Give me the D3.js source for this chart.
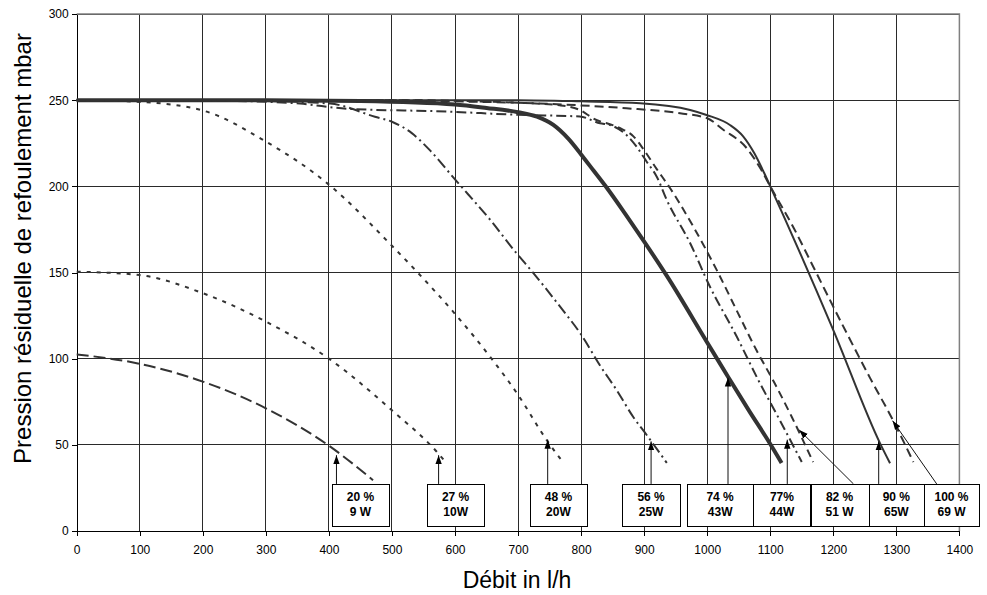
<!DOCTYPE html>
<meta charset="utf-8" />
<style>
  body { margin: 0; background: #fff; }
  svg text { font-family: "Liberation Sans", Arial, sans-serif; fill: #000; }
  .grid line { stroke: #2a2a2a; shape-rendering: crispEdges; }
  .frame { fill: none; stroke: #808080; stroke-width: 1.5; }
  .axis path, .axis line { stroke: #000; shape-rendering: crispEdges; }
  .axis text { font-size: 12px; }
  .curve { fill: none; stroke: #333; }
  .tag rect { fill: #fff; stroke: #000; shape-rendering: crispEdges; }
  .tag text { font-size: 12px; font-weight: bold; text-anchor: middle; }
  .arrow { stroke: #111; stroke-width: 1; }
</style>
<svg width="987" height="595"></svg>
<script src="https://d3js.org/d3.v7.min.js"></script>
<script>
  // ---- data (flow l/h, pressure mbar) ----
  var xTicks = d3.range(0, 1401, 100);
  var yTicks = d3.range(0, 301, 50);

  var c20 = [[0,102.5],[100,97],[200,86.7],[300,71.2],[400,49.5],[470,29.5]];
  var c27 = [[0,150.5],[100,148.5],[200,138],[300,121.5],[400,100],[500,70],[571,46],[584,40.5]];
  var c48 = [[0,250],[100,249],[200,244],[300,226],[400,201],[500,165.5],[542,149.5],[600,126],[658,100],[700,79],[745,53],[769,41]];
  var c56 = [[0,250],[300,249.5],[402,248],[473,240.4],[500,237.5],[531,231],[560,221],[600,204],[656,180.5],[698,161],[719,152],[767,130],[800,114],[830,96],[856,82],[883,66],[904,55.7],[936,39.5]];
  var c74 = [[0,250],[300,250],[450,249.5],[600,247.5],[650,245.5],[700,243],[730,240.4],[756,235.6],[780,227.5],[800,218.5],[820,209],[841,199],[870,184],[899,168.5],[936,148],[999,110],[1033,89.5],[1066,70],[1100,50.5],[1118,39.5]];
  var c77 = [[0,250],[250,249.5],[354,248],[430,245],[587,243.4],[700,241.5],[798,240.5],[830,236.6],[846,235.6],[872,229.8],[888,223],[904,214.3],[920,205.6],[936,192],[973,167],[1004,142],[1047,112.7],[1081,87.6],[1115,64.4],[1150,40]];
  var c82 = [[0,250],[500,250],[700,248.5],[766,247],[798,244.3],[819,239.5],[862,233.7],[883,229],[899,221.5],[920,210],[941,199],[954,191.5],[978,176.6],[1015,151.5],[1049,126.3],[1078,105],[1107,85.7],[1134,66.3],[1168,40]];
  var c90 = [[0,250],[700,250],[800,249.3],[894,248.2],[973,244.3],[999,241.4],[1036,235.6],[1057,229],[1075,219],[1090,208],[1100,200],[1200,116.6],[1274,51],[1290,39.3]];
  var c100 = [[0,250],[500,250],[600,249.3],[700,248.5],[798,247],[872,245.3],[957,242.4],[1000,239.5],[1025,233],[1063,222],[1085,210],[1100,200],[1137,176],[1168,153.5],[1221,115],[1258,89],[1295,64],[1327,40]];

  var tagPct = ["20 %", "27 %", "48 %", "56 %", "74 %", "77%", "82 %", "90 %", "100 %"];
  var tagWatt = ["9 W", "10W", "20W", "25W", "43W", "44W", "51 W", "65W", "69 W"];
  // point on the curve each arrow points to
  var arrowTip = [[412,44],[574,44],[747,53],[911,52],[1033,89],[1127,53],[1146,58.6],[1272,52],[1294,64]];

  // ---- layout ----
  var curves = [c20, c27, c48, c56, c74, c77, c82, c90, c100];
  var dashes = ["12,5", "4,6", "4,6", "11,4,2,4", null, "10,4,2,4", "8,5", null, "9,5"];
  var widths = [2, 2, 2, 2, 4, 2, 2, 2, 2];
  var tagLeft = [405, 556, 719, 865, 968, 1073, 1164, 1256, 1344];
  var tagRight = [495, 646, 809, 957, 1073, 1164, 1256, 1344, 1431];
  var arrowBase = [412, 574, 747, 911, 1033, 1127, 1232, 1272, 1364];
  var tagTop = 27.3, tagBottom = 2.9;

  var svg = d3.select("svg"),
    margin = { top: 14, right: 27.6, bottom: 64, left: 76.7 },
    W = +svg.attr("width"),
    H = +svg.attr("height");

  var x = d3.scaleLinear().domain([0, 1400]).range([margin.left, W - margin.right]);
  var y = d3.scaleLinear().domain([0, 300]).range([H - margin.bottom, margin.top]);

  svg.append("defs").append("marker")
    .attr("id", "head")
    .attr("viewBox", "0 -4 9 8")
    .attr("refX", 9)
    .attr("markerWidth", 9)
    .attr("markerHeight", 8)
    .attr("markerUnits", "userSpaceOnUse")
    .attr("orient", "auto")
    .append("path")
    .attr("d", "M0,-3.2L9,0L0,3.2Z")
    .attr("fill", "#000");

  // grid
  var grid = svg.append("g").attr("class", "grid");
  grid.selectAll(".v").data(xTicks.slice(1))
    .enter().append("line")
    .attr("x1", function(d) { return x(d); })
    .attr("x2", function(d) { return x(d); })
    .attr("y1", y(300))
    .attr("y2", y(0));
  grid.selectAll(".h").data(yTicks.slice(1))
    .enter().append("line")
    .attr("x1", x(0))
    .attr("x2", x(1400))
    .attr("y1", function(d) { return y(d); })
    .attr("y2", function(d) { return y(d); });

  svg.append("path").attr("class", "frame")
    .attr("d", "M" + x(0) + "," + y(300) + "H" + x(1400) + "V" + y(0));

  // axes
  svg.append("g")
    .attr("class", "axis")
    .attr("transform", "translate(0," + y(0) + ")")
    .call(d3.axisBottom(x).tickValues(xTicks).tickFormat(d3.format("d"))
      .tickSize(5).tickSizeOuter(0).tickPadding(9));

  svg.append("g")
    .attr("class", "axis")
    .attr("transform", "translate(" + x(0) + ",0)")
    .call(d3.axisLeft(y).tickValues(yTicks).tickSize(5).tickSizeOuter(0).tickPadding(3));

  // curves
  var line = d3.line()
    .x(function(d) { return x(d[0]); })
    .y(function(d) { return y(d[1]); })
    .curve(d3.curveMonotoneX);

  svg.selectAll(".curve").data(curves)
    .enter().append("path")
    .attr("class", "curve")
    .attr("d", line)
    .style("stroke-width", function(d, i) { return widths[i]; })
    .attr("stroke-dasharray", function(d, i) { return dashes[i]; });

  // arrows
  svg.selectAll(".arrow").data(arrowTip)
    .enter().append("line")
    .attr("class", "arrow")
    .attr("x1", function(d, i) { return x(arrowBase[i]); })
    .attr("y1", y(tagTop))
    .attr("x2", function(d) { return x(d[0]); })
    .attr("y2", function(d) { return y(d[1]); })
    .attr("marker-end", "url(#head)");

  // tags
  var tag = svg.selectAll(".tag").data(tagPct)
    .enter().append("g")
    .attr("class", "tag");
  tag.append("rect")
    .attr("x", function(d, i) { return Math.round(x(tagLeft[i])) + 0.5; })
    .attr("y", Math.round(y(tagTop)) + 0.5)
    .attr("width", function(d, i) { return Math.round(x(tagRight[i]) - x(tagLeft[i])); })
    .attr("height", Math.round(y(tagBottom) - y(tagTop)));
  tag.append("text")
    .attr("x", function(d, i) { return (x(tagLeft[i]) + x(tagRight[i])) / 2; })
    .attr("y", y(tagTop) + 17)
    .text(function(d) { return d; });
  tag.append("text")
    .attr("x", function(d, i) { return (x(tagLeft[i]) + x(tagRight[i])) / 2; })
    .attr("y", y(tagTop) + 32)
    .text(function(d, i) { return tagWatt[i]; });

  // titles
  svg.append("text")
    .attr("x", 517)
    .attr("y", 588)
    .attr("text-anchor", "middle")
    .style("font-size", "23px")
    .text("Débit in l/h");

  svg.append("text")
    .attr("transform", "translate(31," + (y(150) - 24) + ") rotate(-90)")
    .attr("text-anchor", "middle")
    .style("font-size", "24px")
    .text("Pression résiduelle de refoulement mbar");
</script>
